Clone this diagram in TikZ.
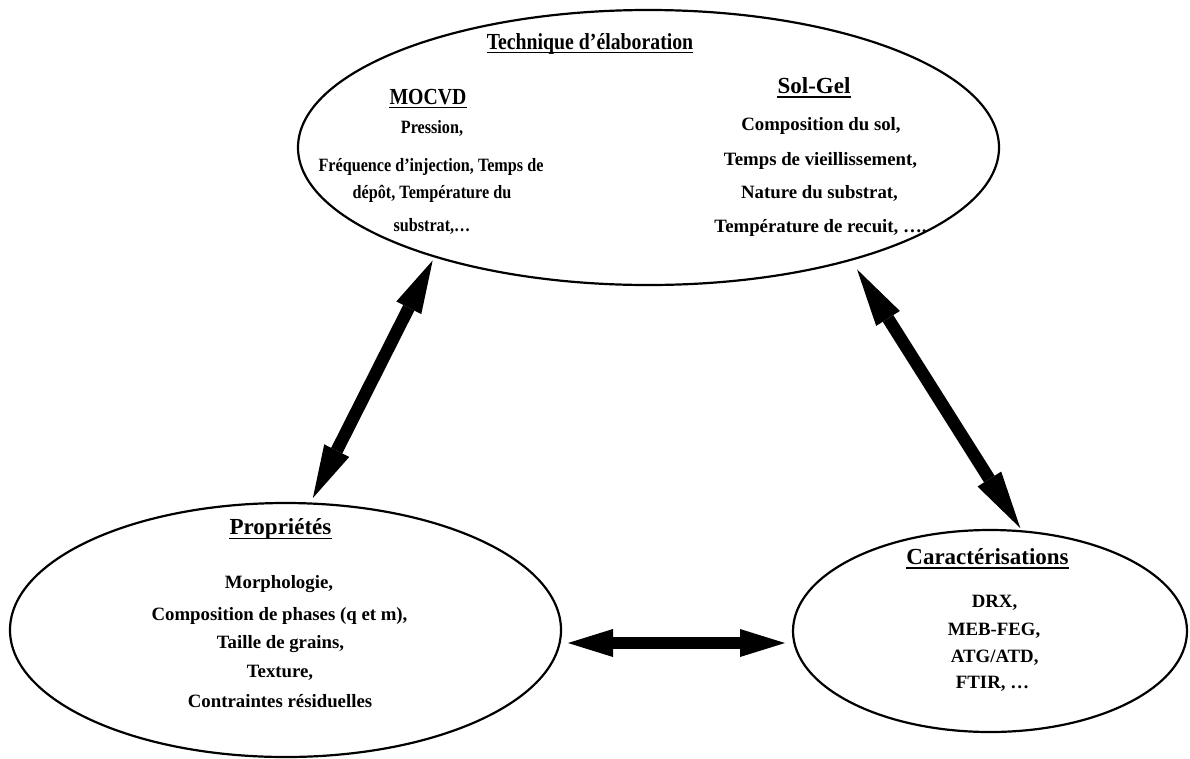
\documentclass[tikz,border=0pt]{standalone}
\usepackage{fontspec}
\setmainfont{Liberation Serif}
\newfontfamily\condfont{Liberation Serif}[FakeStretch=0.86]
\usetikzlibrary{shapes.geometric,arrows.meta}
\begin{document}
\begin{tikzpicture}[x=1pt,y=-1pt,
  oval/.style={draw, ellipse, line width=2.2pt, inner sep=0pt, outer sep=0pt},
  body/.style={anchor=base, inner sep=0pt, font=\fontsize{18.8}{22}\selectfont\bfseries},
  cbody/.style={anchor=base, inner sep=0pt, font=\condfont\fontsize{18.8}{22}\selectfont\bfseries},
  head/.style={anchor=base, inner sep=0pt, font=\fontsize{23}{26}\selectfont\bfseries},
  chead/.style={anchor=base, inner sep=0pt, font=\condfont\fontsize{23}{26}\selectfont\bfseries},
  uline/.style={line width=1.5pt},
  dbl/.style={line width=12.5pt, arrows={Triangle[length=#1,width=28pt,line width=0pt]-Triangle[length=#1,width=28pt,line width=0pt]}}
]
\useasboundingbox (0,0) rectangle (1190,758);

% ellipses
\node[oval, minimum width=701pt, minimum height=275pt] (topE) at (648.5,147.5) {};
\node[oval, minimum width=551pt, minimum height=254pt] (propE) at (285.5,630) {};
\node[oval, minimum width=394pt, minimum height=202pt] (caracE) at (990,631) {};

% top ellipse texts
\node[chead] (tech) at (590,49) {Technique d’élaboration};
\node[chead] (mocvd) at (428,104) {MOCVD};
\node[cbody] (pression) at (432,133) {Pression,};
\node[cbody] (freq) at (431,171) {Fréquence d’injection, Temps de};
\node[cbody] (depot) at (432,198) {dépôt, Température du};
\node[cbody] (subst) at (432,231) {substrat,…};
\node[head] (solgel) at (814,93) {Sol-Gel};
\node[body] (compsol) at (821,130) {Composition du sol,};
\node[body] (temps) at (820.5,165) {Temps de vieillissement,};
\node[body] (nature) at (819.5,198) {Nature du substrat,};
\node[body] (recuit) at (820.5,232) {Température de recuit, ….};

% left ellipse texts
\node[head] (prop) at (280.5,534) {Propriétés};
\node[body] (morph) at (279,588) {Morphologie,};
\node[body] (compph) at (279.5,620) {Composition de phases (q et m),};
\node[body] (taille) at (280.5,648) {Taille de grains,};
\node[body] (texture) at (280,677) {Texture,};
\node[body] (contr) at (280,707) {Contraintes résiduelles};

% right ellipse texts
\node[head] (carac) at (987.5,564) {Caractérisations};
\node[body] (drx) at (994.5,607) {DRX,};
\node[body] (meb) at (994,635) {MEB-FEG,};
\node[body] (atg) at (994.7,662) {ATG/ATD,};
\node[body] (ftir) at (992.5,688) {FTIR, …};

% underlines
\foreach \n/\d in {tech/3.5,mocvd/3.5,solgel/4,prop/4.5,carac/4}{
  \draw[uline] ([yshift=-\d pt]\n.base west) -- ([yshift=-\d pt]\n.base east);
}

% arrows
\draw[dbl=53pt, shorten <=4.5pt, shorten >=6.2pt] (topE.207.9) -- (propE.79);
\draw[dbl=58pt, shorten <=11.4pt, shorten >=3.9pt] (topE.331.9) -- (caracE.72.2);
\draw[dbl=45pt] ([shift={(7pt,-13pt)}]propE.east) -- ([shift={(-8pt,-12pt)}]caracE.west);
\end{tikzpicture}
\end{document}
